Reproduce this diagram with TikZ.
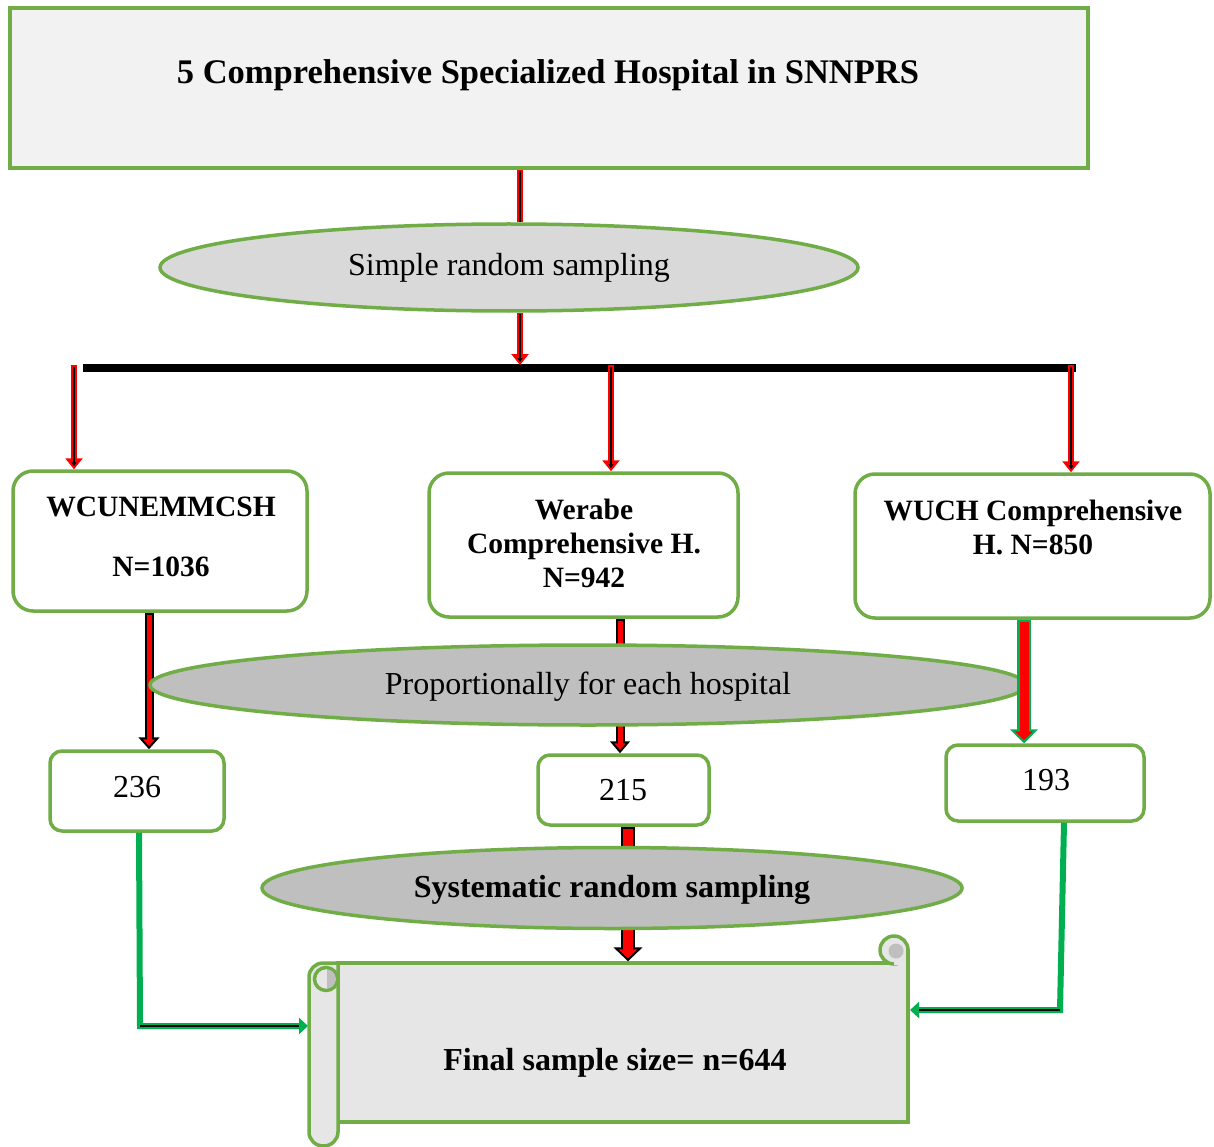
\documentclass[tikz,border=0pt]{standalone}
\usepackage{fontspec}
\setmainfont{Liberation Serif}
\usetikzlibrary{arrows.meta,shapes.geometric,backgrounds}
\definecolor{bgreen}{HTML}{70AD47}
\definecolor{cgreen}{HTML}{00B050}
\definecolor{ellA}{HTML}{D9D9D9}
\definecolor{ellB}{HTML}{BFBFBF}
\definecolor{topfill}{HTML}{F2F2F2}
\definecolor{scrollfill}{HTML}{E7E6E6}
\definecolor{curlfill}{HTML}{BFBFBF}
\tikzset{
  btxt/.style={font=\fontsize{32}{34}\selectfont\bfseries, align=center, inner sep=0pt},
  hbtxt/.style={font=\fontsize{29.5}{34}\selectfont\bfseries, align=center, inner sep=0pt},
  ntxt/.style={font=\fontsize{32}{34}\selectfont, align=center, inner sep=0pt},
  hbox/.style={draw=bgreen, line width=3.5pt, fill=white, rounded corners=20pt, inner sep=0pt},
  nbox/.style={draw=bgreen, line width=3.5pt, fill=white, rounded corners=12pt, inner sep=0pt},
  ellbox/.style={ellipse, draw=bgreen, line width=3.5pt, inner sep=0pt},
  scrollpart/.style={draw=bgreen, line width=3.5pt, fill=scrollfill},
  conn/.style={cgreen, line width=6pt, line join=miter},
}
\newcommand\thinarr[2]{%
  \draw[red, line width=6pt, -{Triangle[width=17pt,length=11pt]}] #1 -- #2;
  \draw[black, line width=2pt, shorten <=1.5pt, shorten >=3pt, -{Triangle[width=5pt,length=4pt]}] #1 -- #2;}
\newcommand\thinseg[2]{%
  \draw[red, line width=6pt] #1 -- #2;
  \draw[black, line width=2pt, shorten <=1.5pt] #1 -- #2;}
\newcommand\blockarr[8]{%
  \draw[#3, line width=#4, -{Triangle[width=#6,length=#7,fill=red,line width=2pt]}] #1 -- #2;
  \draw[red, line width=#5, shorten <=2pt, shorten >=#8] #1 -- #2;}
\begin{document}
\begin{tikzpicture}[x=1pt,y=-1pt]
\useasboundingbox (0,0) rectangle (1214,1147);
% x positions
\coordinate (x74) at (74,0);
\coordinate (x139) at (139,0);
\coordinate (x149) at (149,0);
\coordinate (x520) at (520,0);
\coordinate (x611) at (611,0);
\coordinate (x620) at (620,0);
\coordinate (x628) at (628,0);
\coordinate (x1024) at (1024,0);
\coordinate (x1064) at (1064,0);
\coordinate (x1071) at (1071,0);
\coordinate (bartop) at (0,365);
\coordinate (barL) at (83,368);
\coordinate (barR) at (1076,368);

% boxes
\node[draw=bgreen, line width=3.5pt, fill=topfill, minimum width=1078pt, minimum height=160pt, inner sep=0pt] (top) at (549,88) {};
\node[btxt, font=\fontsize{34.5}{38}\selectfont\bfseries] (toptxt) at (548,75) {5 Comprehensive Specialized Hospital in SNNPRS};

\node[ellbox, fill=ellA, minimum width=698pt, minimum height=87pt] (e1) at (509,267.5) {};
\node[ntxt] (e1t) at (509,268) {Simple random sampling};

\node[hbox, minimum width=294pt, minimum height=140pt] (b1) at (160,541) {};
\node[hbtxt] (b1t) at (161,537) {WCUNEMMCSH\\[26pt]N=1036};
\node[hbox, minimum width=309pt, minimum height=144pt] (b2) at (583.5,545) {};
\node[hbtxt] (b2t) at (584,543) {Werabe\\Comprehensive H.\\N=942};
\node[hbox, minimum width=355pt, minimum height=144pt] (b3) at (1032.5,546) {};
\node[hbtxt] (b3t) at (1033,527) {WUCH Comprehensive\\H. N=850};

\node[ellbox, fill=ellB, minimum width=876pt, minimum height=80pt] (e2) at (588,685) {};
\node[ntxt] (e2t) at (588,687) {Proportionally for each hospital};

\node[nbox, minimum width=174pt, minimum height=80pt] (n1) at (137,791) {};
\node[ntxt] (n1t) at (137,787) {236};
\node[nbox, minimum width=171pt, minimum height=70pt] (n2) at (623.5,790) {};
\node[ntxt] (n2t) at (623,790) {215};
\node[nbox, minimum width=198pt, minimum height=76pt] (n3) at (1045,783) {};
\node[ntxt] (n3t) at (1046,780) {193};

\node[ellbox, fill=ellB, minimum width=700pt, minimum height=81pt] (e3) at (612,888) {};
\node[btxt] (e3t) at (612,890) {Systematic random sampling};

% scroll
\node[scrollpart, minimum width=570pt, minimum height=159pt, inner sep=0pt] (fin) at (623,1042.5) {};
\filldraw[scrollpart] (894,950) circle (14);
\fill[scrollfill] (894,951) rectangle (906.25,964.75);
\draw[bgreen, line width=3.5pt] (908,949) -- (908,966);
\fill[curlfill] (896,951) circle (7.5);
\filldraw[scrollpart] (338,963) -- (323,963) .. controls (315.3,963) and (309,969.3) .. (309,977)
  -- (309,1132) .. controls (309,1139.7) and (315.3,1146) .. (323.5,1146)
  .. controls (331.5,1146) and (338,1139.7) .. (338,1132) -- cycle;
\filldraw[scrollpart] (326,979) circle (11.5);
\begin{scope}
  \clip (327,960) rectangle (345,1000);
  \fill[curlfill] (326,979) circle (9.75);
\end{scope}
\node[btxt] (fint) at (615,1063) {Final sample size= n=644};

\begin{pgfonlayer}{background}
  \fill[white] (0,0) rectangle (1214,1147);
  \draw[line width=7.5pt] (barL) -- (barR);
  \thinseg{(top.south -| x520)}{(e1.north -| x520)}
  \thinarr{(e1.south -| x520)}{(x520 |- bartop)}
  \thinarr{(x74 |- bartop)}{(b1.north -| x74)}
  \thinarr{(x611 |- bartop)}{(b2.north -| x611)}
  \thinarr{(x1071 |- bartop)}{(b3.north -| x1071)}
  \blockarr{(b1.south -| x149)}{(n1.north -| x149)}{black}{9pt}{5pt}{21pt}{12pt}{9pt}
  \blockarr{(b2.south -| x620)}{(n2.north -| x620)}{black}{9pt}{5pt}{20pt}{12pt}{9pt}
  \blockarr{(n2.south -| x628)}{(fin.north -| x628)}{black}{14pt}{10pt}{29pt}{14pt}{11pt}
\end{pgfonlayer}

\blockarr{(b3.south -| x1024)}{(n3.north -| x1024)}{cgreen}{14pt}{9pt}{28pt}{14pt}{11pt}

% green connectors
\coordinate (cL) at (140,1026);
\coordinate (sl) at (308,1026);
\coordinate (cR) at (1060,1010);
\coordinate (sr) at (910,1010);
\draw[conn, -{Triangle[width=16pt,length=9pt]}] (n1.south -| x139) -- (cL) -- (sl);
\draw[black, line width=2.2pt, shorten >=9pt] (cL) -- (sl);
\draw[conn, -{Triangle[width=16pt,length=9pt]}] (n3.south -| x1064) -- (cR) -- (sr);
\draw[black, line width=2.2pt, shorten >=9pt] (cR) -- (sr);
\end{tikzpicture}
\end{document}
